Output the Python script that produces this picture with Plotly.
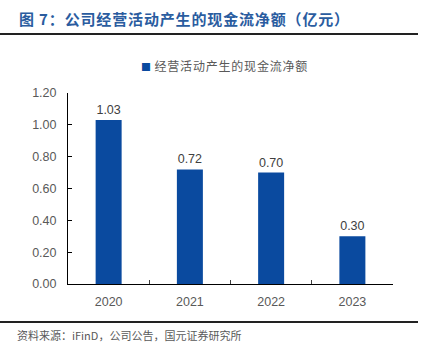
import plotly.graph_objects as go

categories = ["2020", "2021", "2022", "2023"]
values = [1.03, 0.72, 0.70, 0.30]
labels = ["1.03", "0.72", "0.70", "0.30"]
series_name = "经营活动产生的现金流净额"
title_text = "图 7：公司经营活动产生的现金流净额（亿元）"
source_text = "资料来源：iFinD，公司公告，国元证券研究所"

W, H = 430, 352
L, R, T, B = 68, 393, 93, 284

def px(x):
    return (x - L) / (R - L)

def py(y):
    return (B - y) / (B - T)

CJK = "Noto Sans CJK SC"
ARIAL = "Liberation Sans"
BAR = "#0A4A9F"

fig = go.Figure()
fig.add_trace(go.Bar(
    x=categories, y=values, name=series_name,
    marker=dict(color=BAR, line=dict(width=0)),
    width=0.32,
    text=labels, textposition="outside", cliponaxis=False,
    textfont=dict(family=ARIAL, size=12.5, color="#404040"),
    showlegend=False,
))

legend_html = ('<span style="font-size:10px;color:%s">■</span>'
               '<span style="letter-spacing:0.8px"> %s</span>') % (BAR, series_name)

fig.update_layout(
    width=W, height=H,
    margin=dict(l=L, r=W - R, t=T, b=H - B),
    paper_bgcolor="white", plot_bgcolor="white",
    showlegend=False,
    xaxis=dict(
        type="category",
        showline=True, linecolor="#000000", linewidth=1,
        ticks="inside", tickson="boundaries", ticklen=4, tickcolor="#404040",
        tickfont=dict(family=ARIAL, size=12.5, color="#595959"),
        showgrid=False, zeroline=False,
        ticklabelstandoff=6,
    ),
    yaxis=dict(
        range=[0, 1.2], dtick=0.2, tick0=0, tickformat=".2f",
        showline=True, linecolor="#000000", linewidth=1,
        ticks="inside", ticklen=4, tickcolor="#000000",
        tickfont=dict(family=ARIAL, size=12.5, color="#595959"),
        showgrid=False, zeroline=False,
        ticklabelstandoff=8,
    ),
    annotations=[
        dict(text='<b><span style="letter-spacing:0.85px">' + title_text + "</span></b>",
             xref="paper", yref="paper",
             x=px(17), y=py(19), xanchor="left", yanchor="middle",
             showarrow=False,
             font=dict(family=CJK, size=15, color="#2A5C9F")),
        dict(text=legend_html, xref="paper", yref="paper",
             x=px(139), y=py(65), xanchor="left", yanchor="middle",
             showarrow=False,
             font=dict(family=CJK, size=12, color="#595959")),
        dict(text=source_text, xref="paper", yref="paper",
             x=px(15), y=py(335), xanchor="left", yanchor="middle",
             showarrow=False,
             font=dict(family=CJK, size=11, color="#595959")),
    ],
    shapes=[
        dict(type="line", xref="paper", yref="paper",
             x0=px(0), x1=px(418), y0=py(34), y1=py(34),
             line=dict(color="#222222", width=2)),
        dict(type="line", xref="paper", yref="paper",
             x0=px(0), x1=px(418), y0=py(322), y1=py(322),
             line=dict(color="#222222", width=2)),
    ],
)

fig.write_html("out.html")
